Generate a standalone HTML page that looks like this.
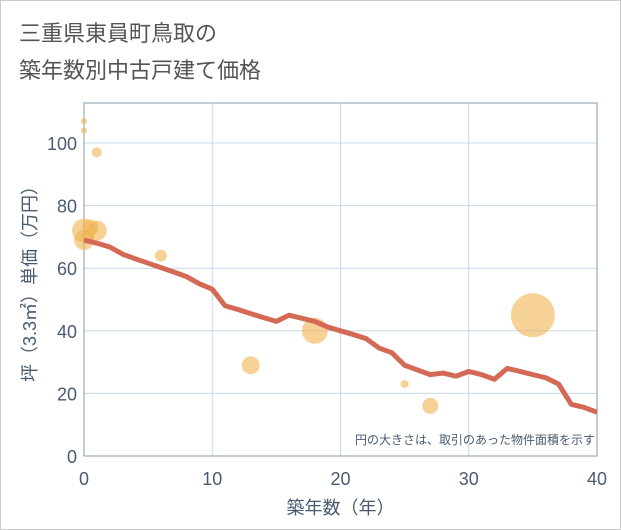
<!DOCTYPE html>
<html><head><meta charset="utf-8"><style>
body{margin:0;background:#fff;}
.wrap{width:619px;height:528px;border:1px solid #ccc;position:relative;background:#fff;font-family:"Liberation Sans","Noto Sans CJK JP",sans-serif;}
.title{position:absolute;left:18px;top:14px;font-size:22px;color:#555;line-height:37px;}
</style></head><body>
<div class="wrap">
<div class="title">三重県東員町鳥取の<br>築年数別中古戸建て価格</div>
<svg id="c" width="621" height="530" style="position:absolute;left:-1px;top:-1px"></svg>
</div>
<script>
const lineX=[0,1,2,3,4,5,6,7,8,9,10,11,12,13,14,15,16,17,18,19,20,21,22,23,24,25,26,27,28,29,30,31,32,33,34,35,36,37,38,39,40];
const lineY=[69,68,66.8,64.5,63,61.6,60.2,58.8,57.3,55,53.3,48,46.8,45.5,44.2,43,45,44,43,41.2,40,38.8,37.5,34.5,33,29,27.5,26,26.5,25.5,27,26,24.5,28,27,26,25,23,16.5,15.5,14];
const bubX=[0,0,1,0,0,1,0.5,6,13,18,25,27,35];
const bubY=[107,104,97,72,69,72,73,64,29,40,23,16,45];
const bubR=[3,3,5,12,10,10,8,6,9,13,4,8,22];
const xTicks=[0,10,20,30,40];
const yTicks=[0,20,40,60,80,100];
const ns="http://www.w3.org/2000/svg",svg=document.getElementById('c');
const X0=84,X1=597,YT=103,YB=456;
const sx=v=>X0+(X1-X0)*v/40, sy=v=>YB-(YB-143)*v/100;
function mk(t,a,p){const e=document.createElementNS(ns,t);for(const k in a)e.setAttribute(k,a[k]);(p||svg).appendChild(e);return e;}
let e;
e=mk('rect',{x:X0,y:YT,width:X1-X0,height:YB-YT,fill:'#fff',stroke:'none'});


xTicks.forEach(t=>{
 e=mk('line',{x1:sx(t),x2:sx(t),y1:YT,y2:YB,stroke:'#c8d8e8','stroke-width':1});
 
 
 e=mk('text',{x:sx(t),y:YB+29,'text-anchor':'middle','font-size':18,fill:'#4a5a70'});e.textContent=t;
 
 
});
yTicks.forEach(t=>{
 e=mk('line',{x1:X0,x2:X1,y1:sy(t),y2:sy(t),stroke:'#c8d8e8','stroke-width':1});
 
 
 e=mk('text',{x:X0-7,y:sy(t)+7,'text-anchor':'end','font-size':18,fill:'#4a5a70'});e.textContent=t;
 
 
});
e=mk('rect',{x:X0,y:YT,width:X1-X0,height:YB-YT,fill:'none',stroke:'#8a9aaa','stroke-width':1});


bubX.forEach((v,i)=>{
 e=mk('circle',{cx:sx(v),cy:sy(bubY[i]),r:bubR[i],fill:'rgba(240,180,80,0.6)'});
 
 
});
e=mk('polyline',{points:lineX.map((v,i)=>sx(v)+','+sy(lineY[i])).join(' '),fill:'none',stroke:'#d46a55','stroke-width':5,'stroke-linejoin':'round'});


e=mk('text',{x:X1-2,y:YB-12,'text-anchor':'end','font-size':12,fill:'#4a5a70'});e.textContent='円の大きさは、取引のあった物件面積を示す';


e=mk('text',{x:(X0+X1)/2,y:514,'text-anchor':'middle','font-size':18,fill:'#4a5a70'});e.textContent='築年数（年）';


e=mk('text',{x:0,y:0,'text-anchor':'middle','font-size':18,fill:'#4a5a70',transform:'translate(36,'+((YT+YB)/2)+') rotate(-90)'});e.textContent='坪（3.3㎡）単価（万円）';


</script>
</body></html>
